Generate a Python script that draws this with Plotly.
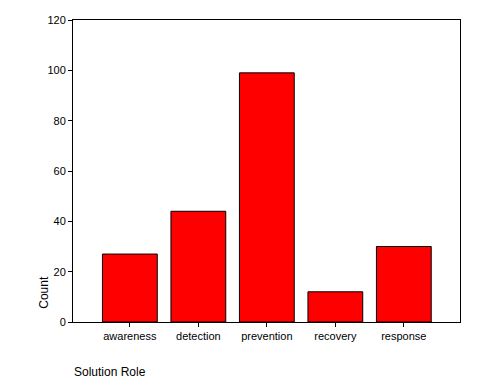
import plotly.graph_objects as go

categories = ["awareness", "detection", "prevention", "recovery", "response"]
counts = [27, 44, 99, 12, 30]
y_ticks = [0, 20, 40, 60, 80, 100, 120]

fig = go.Figure(go.Bar(
    x=categories, y=counts, width=0.8,
    marker=dict(color="#ff0000", line=dict(color="black", width=1)),
))

font = dict(family="Liberation Sans, Arial, sans-serif", size=11, color="black")
fig.update_layout(
    width=473, height=377,
    margin=dict(l=65, r=21, t=12, b=63, autoexpand=False),
    plot_bgcolor="white", paper_bgcolor="white",
    showlegend=False, font=font,
    xaxis=dict(range=[-0.83, 4.82], showline=True, linecolor="black", linewidth=1,
               mirror=True, ticks="outside", ticklen=4, tickcolor="black",
               showgrid=False, tickfont=font, automargin=False),
    yaxis=dict(range=[0, 120], tickvals=y_ticks, showline=True, linecolor="black",
               linewidth=1, mirror=True, ticks="outside", ticklen=4, tickcolor="black",
               showgrid=False, zeroline=False, tickfont=font, automargin=False),
)
fig.add_annotation(text="Count", xref="paper", yref="paper", textangle=-90,
                   x=-0.075, y=0.1, xanchor="center", yanchor="middle", showarrow=False,
                   font=dict(family=font["family"], size=12, color="black"))
fig.add_annotation(text="Solution Role", xref="paper", yref="paper",
                   x=-0.003, y=-0.137, xanchor="left", yanchor="top", showarrow=False,
                   font=dict(family=font["family"], size=12, color="black"))

fig.write_html("out.html")
